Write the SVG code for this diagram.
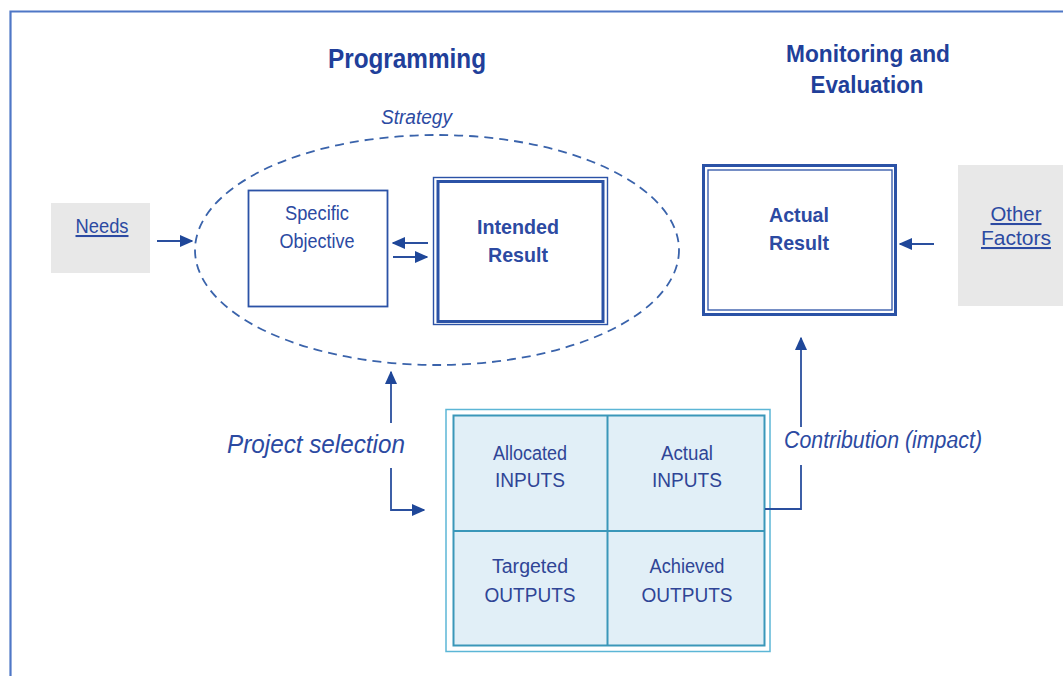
<svg xmlns="http://www.w3.org/2000/svg" width="1063" height="676" viewBox="0 0 1063 676">
  <style>
    .frame { fill: none; stroke: #4f77c6; stroke-width: 2.2; }
    .title { font-family: "Liberation Sans", Arial, sans-serif; font-weight: bold; fill: #213f9a; text-anchor: middle; }
    .label { font-family: "Liberation Sans", Arial, sans-serif; fill: #2c4aa2; text-anchor: middle; }
    .bold { font-weight: bold; }
    .ital { font-family: "Liberation Sans", Arial, sans-serif; font-style: italic; fill: #2c4aa2; }
    .link { text-decoration: underline; }
    .grey { fill: #e8e8e8; }
    .box { fill: #ffffff; stroke: #2b52a6; }
    .conn { fill: none; stroke: #2a4f9e; stroke-width: 1.8; }
    .cell { font-family: "Liberation Sans", Arial, sans-serif; fill: #2f4596; text-anchor: middle; font-size: 20px; }
  </style>
  <defs>
    <marker id="arrow" viewBox="0 0 10 10" refX="9" refY="5" markerWidth="7.5" markerHeight="7.5" markerUnits="strokeWidth" orient="auto">
      <path d="M0,0.5 L10,5 L0,9.5 z" fill="#1f4799"/>
    </marker>
  </defs>

  <rect width="1063" height="676" fill="#ffffff"/>

  <!-- page frame: left and top rules -->
  <path class="frame" d="M10.5,676 V11.5 H1063"/>

  <!-- column headings -->
  <text class="title" x="407" y="68" font-size="27" textLength="158" lengthAdjust="spacingAndGlyphs">Programming</text>
  <text class="title" x="868" y="62" font-size="24.5" textLength="164" lengthAdjust="spacingAndGlyphs">Monitoring and</text>
  <text class="title" x="867" y="93" font-size="24.5" textLength="113" lengthAdjust="spacingAndGlyphs">Evaluation</text>

  <!-- strategy envelope -->
  <g id="strategy">
    <ellipse cx="437" cy="250" rx="242" ry="115" fill="none" stroke="#3a63ab" stroke-width="1.8" stroke-dasharray="9,6"/>
    <text class="ital" x="381" y="124" font-size="20" textLength="71" lengthAdjust="spacingAndGlyphs">Strategy</text>
  </g>

  <g id="needs">
    <rect class="grey" x="51" y="203" width="99" height="70"/>
    <text class="label link" x="102" y="233" font-size="20.5" textLength="53" lengthAdjust="spacingAndGlyphs">Needs</text>
  </g>

  <g id="specific-objective">
    <rect class="box" x="248.5" y="190.5" width="139" height="116" stroke-width="1.8"/>
    <text class="label" x="317" y="220" font-size="20.5" textLength="64" lengthAdjust="spacingAndGlyphs">Specific</text>
    <text class="label" x="317" y="248" font-size="20.5" textLength="75" lengthAdjust="spacingAndGlyphs">Objective</text>
  </g>

  <g id="intended-result">
    <rect class="box" x="433.5" y="177.5" width="174" height="147" stroke-width="1.4"/>
    <rect class="box" x="438" y="181.5" width="165" height="140" stroke-width="3"/>
    <text class="label bold" x="518" y="234" font-size="21" textLength="82" lengthAdjust="spacingAndGlyphs">Intended</text>
    <text class="label bold" x="518" y="262" font-size="21" textLength="60" lengthAdjust="spacingAndGlyphs">Result</text>
  </g>

  <g id="actual-result">
    <rect class="box" x="703.5" y="165.5" width="192" height="149" stroke-width="3"/>
    <rect class="box" x="708" y="170" width="184" height="140" stroke-width="1.3"/>
    <text class="label bold" x="799" y="222" font-size="21" textLength="60" lengthAdjust="spacingAndGlyphs">Actual</text>
    <text class="label bold" x="799" y="250" font-size="21" textLength="60" lengthAdjust="spacingAndGlyphs">Result</text>
  </g>

  <g id="other-factors">
    <rect class="grey" x="958" y="165" width="105" height="141"/>
    <text class="label link" x="1016" y="221" font-size="20.5" textLength="51" lengthAdjust="spacingAndGlyphs">Other</text>
    <text class="label link" x="1016" y="245" font-size="20.5" textLength="70" lengthAdjust="spacingAndGlyphs">Factors</text>
  </g>

  <g id="inputs-outputs">
    <rect x="446" y="409.5" width="324" height="242" fill="#ffffff" stroke="#5cb6d6" stroke-width="1.5"/>
    <rect x="453.5" y="415.5" width="311" height="230" fill="#e1eff7" stroke="#3a97b9" stroke-width="2"/>
    <line x1="607.5" y1="415.5" x2="607.5" y2="645.5" stroke="#3a97b9" stroke-width="2"/>
    <line x1="453.5" y1="531" x2="764.5" y2="531" stroke="#3a97b9" stroke-width="2"/>
    <text class="cell" x="530" y="460" textLength="74" lengthAdjust="spacingAndGlyphs">Allocated</text>
    <text class="cell" x="530" y="487" textLength="70" lengthAdjust="spacingAndGlyphs">INPUTS</text>
    <text class="cell" x="687" y="460" textLength="52" lengthAdjust="spacingAndGlyphs">Actual</text>
    <text class="cell" x="687" y="487" textLength="70" lengthAdjust="spacingAndGlyphs">INPUTS</text>
    <text class="cell" x="530" y="573" textLength="76" lengthAdjust="spacingAndGlyphs">Targeted</text>
    <text class="cell" x="530" y="602" textLength="91" lengthAdjust="spacingAndGlyphs">OUTPUTS</text>
    <text class="cell" x="687" y="573" textLength="75" lengthAdjust="spacingAndGlyphs">Achieved</text>
    <text class="cell" x="687" y="602" textLength="91" lengthAdjust="spacingAndGlyphs">OUTPUTS</text>
  </g>

  <!-- connectors -->
  <g id="connectors">
    <line class="conn" x1="157" y1="241" x2="192" y2="241" marker-end="url(#arrow)"/>
    <line class="conn" x1="428" y1="243" x2="393" y2="243" marker-end="url(#arrow)"/>
    <line class="conn" x1="393" y1="257" x2="427" y2="257" marker-end="url(#arrow)"/>
    <line class="conn" x1="934" y1="244" x2="900" y2="244" marker-end="url(#arrow)"/>
    <line class="conn" x1="391" y1="423" x2="391" y2="372" marker-end="url(#arrow)"/>
    <path class="conn" d="M391,468 V510 H424" marker-end="url(#arrow)"/>
    <path class="conn" d="M765,509 H801 V465"/>
    <line class="conn" x1="801" y1="427" x2="801" y2="338" marker-end="url(#arrow)"/>
  </g>

  <g id="connector-labels">
    <text class="ital" x="227" y="453" font-size="25" textLength="178" lengthAdjust="spacingAndGlyphs">Project selection</text>
    <text class="ital" x="784" y="448" font-size="23" textLength="198" lengthAdjust="spacingAndGlyphs">Contribution (impact)</text>
  </g>
</svg>
